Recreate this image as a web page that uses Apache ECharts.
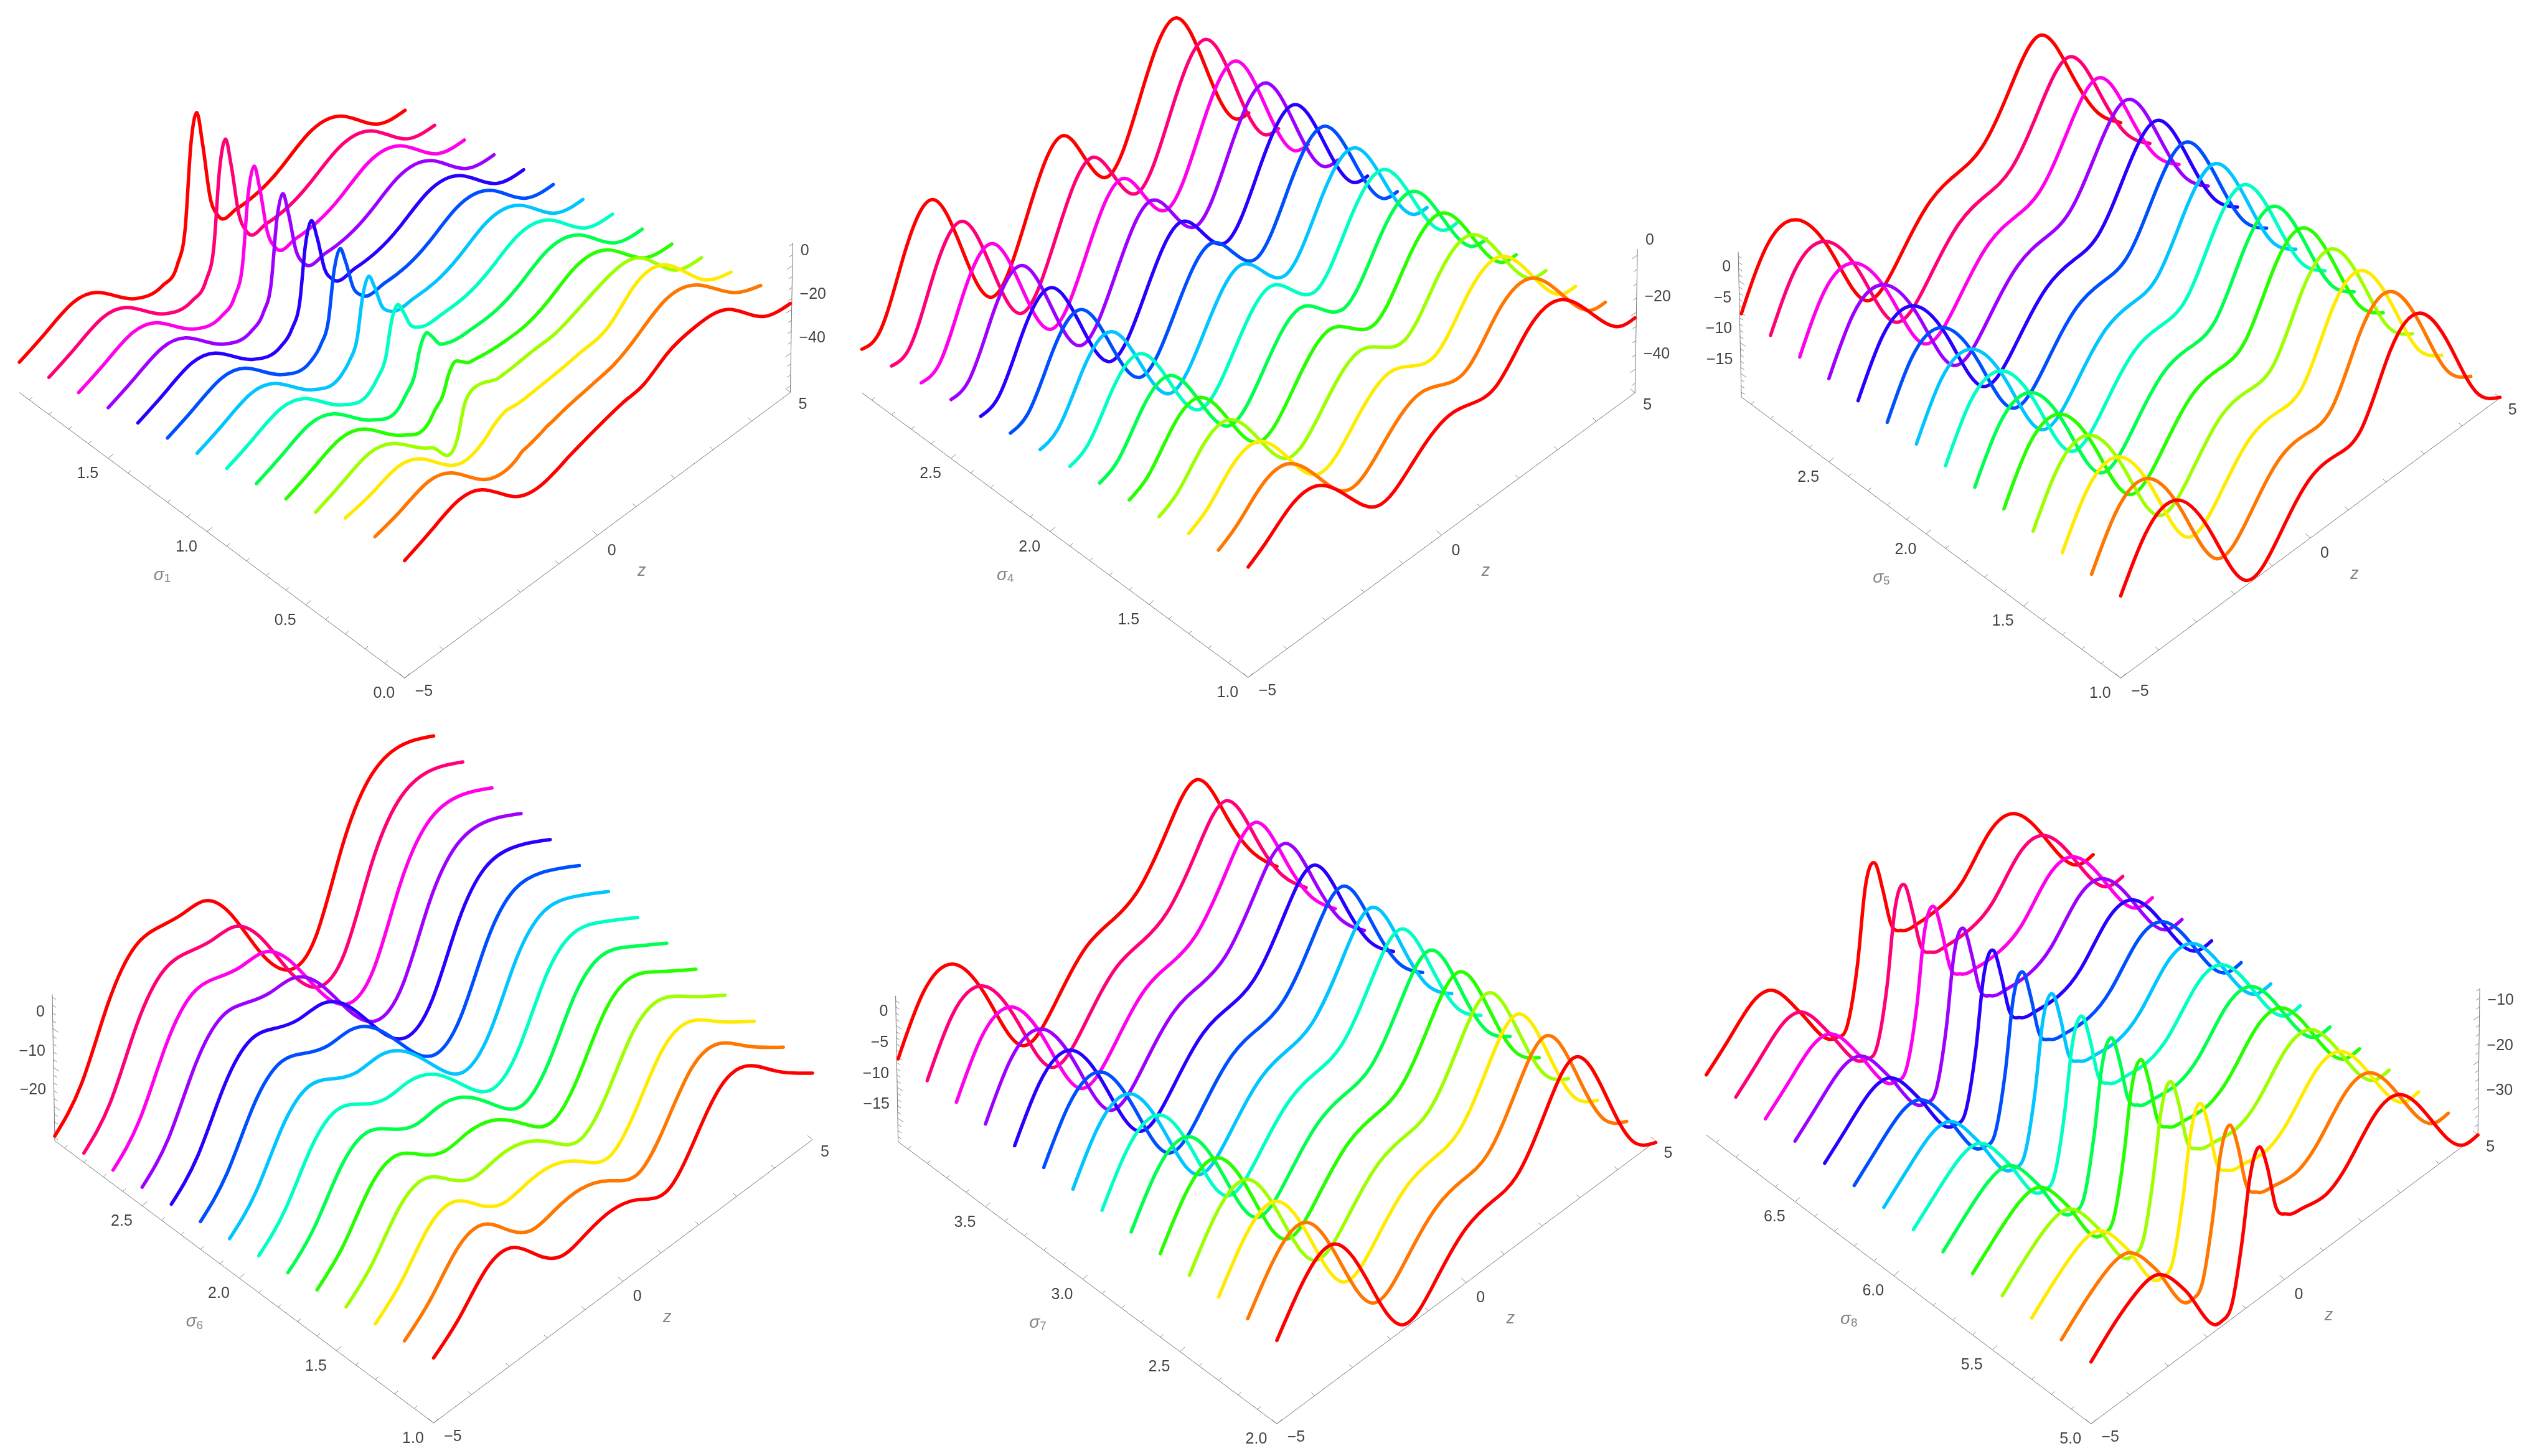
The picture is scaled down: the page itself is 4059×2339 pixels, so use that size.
<!DOCTYPE html>
<html><head><meta charset="utf-8">
<style>html,body{margin:0;padding:0;background:#fff}#c{width:4059px;height:2339px}</style>
<script src="https://cdn.jsdelivr.net/npm/echarts@6/dist/echarts.min.js"></script>
</head><body><div id="c"></div>
<script>
// ---------- curve colours, back (largest sigma) to front ----------
const curveColors=['#ff0000','#ff0076','#ff00eb','#9d00ff','#2700ff','#004fff','#00c5ff','#00ffc4','#00ff4f','#27ff00','#9dff00','#ffeb00','#ff7600','#ff0000'];

// ---------- panel 1: sigma_1, one row per curve ----------
const zKnots1=[-5,-4.3,-3.6,-3,-2,-1.3,-.9,-.7,-.55,-.4,-.25,-.05,.15,.65,1.2,1.8,2.5,3.4,4.3,5];
const zMoves1=[0,0,0,0,0,0,1,1,1,1,1,1,1,0,0,0,0,0,0,0];
const peakDrift1=[0,-.026,-.052,-.078,-.104,-.13,-.156,-.182,-.208,-.234,-.26,-.286,-.312,-.338];
const curves1=[
[-44.1,-39.4,-35,-38.3,-54.2,-57.6,-52.9,-39.1,-2.1,10,-6.2,-33.7,-44.3,-47.5,-47.2,-43.6,-37.4,-41.3,-56.6,-59.5],
[-41,-36.3,-31.9,-35.2,-51.1,-54.5,-49.8,-37.2,-3.4,8.2,-5.7,-30.7,-41.2,-44.3,-44,-40.2,-34.2,-38,-53.3,-56.3],
[-37.9,-33.2,-28.8,-32.1,-48,-51.4,-46.8,-35.2,-4.4,6.2,-6.2,-28.7,-38.1,-41,-40.7,-37.1,-30.9,-34.8,-50.1,-53],
[-34.8,-30.1,-25.7,-29,-44.9,-48.3,-43.8,-33.3,-5.7,4,-7,-26.8,-35,-37.7,-37.4,-33.8,-27.6,-31.5,-46.8,-49.7],
[-31.7,-27,-22.6,-25.9,-41.8,-45.2,-40.8,-31.3,-6.8,2,-7.6,-24.8,-31.9,-34.5,-34.2,-30.6,-24.4,-28.3,-43.6,-46.5],
[-28.6,-23.9,-19.5,-22.8,-38.7,-42.1,-37.9,-29.4,-8.2,-.4,-8.4,-22.9,-28.8,-31.2,-30.9,-27.3,-21.1,-25,-40.3,-43.2],
[-25.5,-20.8,-16.4,-19.7,-35.6,-39,-34.9,-27.5,-9.5,-2.7,-9.2,-21,-25.7,-28,-27.7,-24.1,-17.9,-21.8,-37.1,-40],
[-22.4,-17.7,-13.3,-16.6,-32.5,-35.9,-31.9,-25.7,-11.1,-5.3,-10.2,-19.2,-22.6,-24.7,-24.4,-20.8,-14.6,-18.5,-33.8,-36.7],
[-19.3,-14.6,-10.2,-13.5,-29.4,-32.8,-28.9,-23.8,-12.7,-7.9,-11.2,-17.3,-19.5,-21.5,-21.2,-17.6,-11.4,-15.3,-30.6,-33.5],
[-16.2,-11.5,-7.1,-10.4,-26.3,-29.7,-25.9,-22,-14.3,-10.6,-12.3,-15.5,-16.4,-18.2,-18,-14.4,-8.2,-12.1,-27.4,-30.3],
[-12.3,-7.7,-3.5,-7,-22,-25,-14.3,-9.4,-9.1,-9.8,-11.1,-12.7,-12.8,-12,-11.7,-8.4,-4,-5.6,-23,-26.5],
[-4.9,-2.5,.7,-4,-19,-15,-13.2,-11.1,-10.2,-10.6,-11,-11,-10.8,-9.8,-8.7,-6.7,3.5,1,-17.4,-23],
[-3.4,0,3.7,-.4,-16,-15.6,-14.5,-13.7,-13,-12.3,-11.3,-10.6,-9.7,-7.3,-5.6,-.4,6.4,2,-13.2,-19.1],
[-4.3,.5,5,2,-14,-15.6,-15.3,-14.3,-13.3,-12.3,-11.5,-10.5,-9.5,-6,-4.7,1.4,4.2,.9,-14.1,-17.3]
];

// ---------- panels 2-6: one row per z knot, one entry per curve ----------
const zKnots2=[-5,-4.55,-3.9,-3.17,-2.39,-1.64,-.74,.2,.78,1.37,2.22,3.13,3.94,4.67,5];
const slices2=[
[-33,-31.2,-29.4,-27.6,-25.8,-24,-22.1,-20.3,-18.5,-16.7,-14.9,-13.1,-11.3,-9.5],
[-31.7,-29.7,-27.7,-25.7,-23.7,-21.7,-19.6,-17.6,-15.6,-13.6,-11.6,-9.6,-7.6,-5.6],
[-10.4,-9.5,-8.7,-7.8,-6.9,-6,-5.2,-4.3,-3.4,-2.6,-1.7,-.8,.1,.9],
[1.3,1.3,1.2,1.2,1.1,1.1,1,1,1,1,.9,.9,.8,.8],
[-24.7,-23.7,-22.6,-21.6,-20.5,-19.5,-18.4,-17.4,-16.3,-15.3,-14.2,-13.2,-12.1,-11.1],
[-48.3,-46.3,-44.2,-42.2,-40.1,-38,-36,-33.9,-31.9,-29.9,-27.8,-25.8,-23.7,-21.6],
[-29.2,-28.1,-27.1,-26,-25,-23.9,-22.8,-21.8,-20.7,-19.7,-18.6,-17.5,-16.5,-15.4],
[-10,-9.9,-9.7,-9.6,-9.4,-9.3,-9.2,-9,-8.9,-8.7,-8.6,-8.5,-8.3,-8.2],
[-24,-22.9,-21.8,-20.8,-19.7,-18.6,-17.5,-16.4,-15.4,-14.3,-13.2,-12.1,-11,-9.9],
[-36,-34,-32.1,-30.1,-28.1,-26.2,-24.2,-22.2,-20.2,-18.3,-16.3,-14.3,-12.4,-10.4],
[-15.5,-14.2,-12.9,-11.6,-10.3,-9,-7.7,-6.4,-5.1,-3.8,-2.5,-1.2,.1,1.4],
[2.1,2.2,2.3,2.3,2.4,2.5,2.6,2.7,2.7,2.8,2.9,3,3,3.1],
[-25.2,-24.1,-22.9,-21.8,-20.7,-19.5,-18.4,-17.3,-16.2,-15,-13.9,-12.8,-11.6,-10.5],
[-48.8,-46.7,-44.6,-42.5,-40.4,-38.3,-36.2,-34.1,-32,-29.9,-27.8,-25.7,-23.6,-21.5],
[-50,-47.8,-45.7,-43.5,-41.4,-39.2,-37.1,-34.9,-32.8,-30.6,-28.5,-26.3,-24.2,-22]
];
const zKnots3=[-5,-4.36,-3.44,-2.58,-1.69,-.87,-.02,.69,1.33,2.11,2.89,3.68,4.39,5];
const slices3=[
[-5.3,-5.3,-5.3,-5.3,-5.4,-5.4,-5.4,-5.4,-5.4,-5.4,-5.5,-5.5,-5.5,-5.5],
[2.4,2.3,2.3,2.2,2.1,2.1,2,1.9,1.8,1.8,1.7,1.6,1.6,1.5],
[2.7,2.7,2.7,2.7,2.8,2.8,2.8,2.8,2.8,2.8,2.9,2.9,2.9,2.9],
[-6.8,-6.8,-6.8,-6.8,-6.7,-6.7,-6.7,-6.7,-6.7,-6.7,-6.6,-6.6,-6.6,-6.6],
[-18.2,-18.2,-18.2,-18.2,-18.1,-18.1,-18.1,-18.1,-18.1,-18.1,-18,-18,-18,-18],
[-15.4,-15.4,-15.4,-15.3,-15.3,-15.3,-15.3,-15.2,-15.2,-15.2,-15.2,-15.1,-15.1,-15.1],
[-9.7,-9.7,-9.6,-9.6,-9.6,-9.5,-9.5,-9.4,-9.4,-9.4,-9.3,-9.3,-9.2,-9.2],
[-8.4,-8.4,-8.4,-8.4,-8.4,-8.4,-8.4,-8.5,-8.5,-8.5,-8.5,-8.5,-8.5,-8.5],
[-7.2,-7.2,-7.2,-7.2,-7.3,-7.3,-7.3,-7.3,-7.3,-7.3,-7.4,-7.4,-7.4,-7.4],
[-.7,-.5,-.3,-.1,.1,.3,.5,.8,1,1.2,1.4,1.6,1.8,2],
[4,4,4.1,4.1,4.2,4.2,4.2,4.3,4.3,4.3,4.4,4.4,4.5,4.5],
[-5.6,-5.5,-5.4,-5.3,-5.2,-5.1,-5,-5,-4.9,-4.8,-4.7,-4.6,-4.5,-4.4],
[-15.3,-15.3,-15.3,-15.3,-15.3,-15.3,-15.3,-15.2,-15.2,-15.2,-15.2,-15.2,-15.2,-15.2],
[-19.7,-19.6,-19.5,-19.5,-19.4,-19.3,-19.2,-19.2,-19.1,-19,-18.9,-18.9,-18.8,-18.7]
];
const zKnots4=[-5,-4.3,-3.6,-2.89,-2.19,-1.63,-1.04,-.37,.41,1.18,1.88,2.58,3.29,3.99,5];
const slices4=[
[-27.6,-26.4,-25.2,-24,-22.8,-21.7,-20.5,-19.3,-18.1,-16.9,-15.7,-14.5,-13.3,-12.1],
[-19.4,-18.4,-17.4,-16.4,-15.4,-14.4,-13.5,-12.5,-11.5,-10.5,-9.5,-8.5,-7.5,-6.5],
[-3.9,-3.5,-3.2,-2.8,-2.5,-2.1,-1.8,-1.4,-1.1,-.7,-.4,0,.3,.7],
[5.6,5.2,4.9,4.5,4.2,3.8,3.4,3.1,2.7,2.3,2,1.6,1.3,.9],
[5.9,5,4,3.1,2.1,1.2,.2,-.8,-1.7,-2.7,-3.6,-4.6,-5.5,-6.4],
[4.9,3.7,2.5,1.4,.2,-1,-2.2,-3.4,-4.6,-5.8,-7,-8.1,-9.3,-10.5],
[4,2.9,1.9,.8,-.2,-1.3,-2.3,-3.4,-4.4,-5.5,-6.5,-7.6,-8.6,-9.7],
[-4.1,-4.4,-4.8,-5.1,-5.4,-5.8,-6.1,-6.4,-6.7,-7.1,-7.4,-7.7,-8.1,-8.4],
[-19.6,-18.9,-18.2,-17.6,-16.9,-16.2,-15.5,-14.9,-14.2,-13.5,-12.8,-12.1,-11.5,-10.8],
[-29.9,-28.7,-27.5,-26.2,-25,-23.8,-22.6,-21.4,-20.1,-18.9,-17.7,-16.5,-15.2,-14],
[-26.7,-25.1,-23.6,-22,-20.5,-18.9,-17.3,-15.8,-14.2,-12.6,-11.1,-9.5,-8,-6.4],
[-8.6,-7.7,-6.9,-6,-5.2,-4.3,-3.5,-2.6,-1.8,-.9,-.1,.8,1.6,2.5],
[3.7,3.6,3.5,3.4,3.4,3.3,3.2,3.1,3.1,3,2.9,2.8,2.7,2.6],
[6.4,5.6,4.8,4.1,3.3,2.5,1.7,.9,.2,-.6,-1.4,-2.2,-2.9,-3.7],
[2.4,1.3,.2,-.8,-1.9,-3,-4.1,-5.2,-6.2,-7.3,-8.4,-9.5,-10.6,-11.7]
];
const zKnots5=[-5,-4.35,-3.43,-2.58,-1.69,-.87,-.01,.69,1.32,2.12,2.89,3.68,4.38,5];
const slices5=[
[-5.4,-5.4,-5.4,-5.4,-5.4,-5.4,-5.4,-5.3,-5.3,-5.3,-5.3,-5.3,-5.3,-5.3],
[2.2,2.1,2,1.9,1.7,1.6,1.5,1.4,1.3,1.2,1,.9,.8,.7],
[2.6,2.6,2.7,2.7,2.8,2.8,2.8,2.9,2.9,3,3,3,3.1,3.1],
[-7.3,-7.3,-7.3,-7.2,-7.2,-7.2,-7.2,-7.1,-7.1,-7.1,-7.1,-7,-7,-7],
[-18.4,-18.4,-18.3,-18.3,-18.2,-18.2,-18.2,-18.1,-18.1,-18.1,-18,-18,-17.9,-17.9],
[-15.5,-15.5,-15.5,-15.4,-15.4,-15.4,-15.4,-15.3,-15.3,-15.3,-15.3,-15.2,-15.2,-15.2],
[-9.9,-9.9,-9.9,-9.9,-9.9,-9.9,-10,-10,-10,-10,-10,-10,-10,-10],
[-8.8,-8.8,-8.8,-8.8,-8.8,-8.8,-8.8,-8.8,-8.8,-8.8,-8.8,-8.8,-8.8,-8.8],
[-7.2,-7.2,-7.3,-7.3,-7.4,-7.4,-7.4,-7.5,-7.5,-7.5,-7.6,-7.6,-7.7,-7.7],
[-.7,-.7,-.7,-.6,-.6,-.6,-.6,-.5,-.5,-.5,-.5,-.4,-.4,-.4],
[3.7,3.8,3.8,3.9,3.9,4,4.1,4.1,4.2,4.2,4.3,4.4,4.4,4.5],
[-6,-5.9,-5.9,-5.8,-5.8,-5.7,-5.7,-5.6,-5.6,-5.5,-5.5,-5.4,-5.4,-5.3],
[-15,-15.1,-15.1,-15.2,-15.3,-15.3,-15.4,-15.5,-15.6,-15.6,-15.7,-15.8,-15.8,-15.9],
[-20,-19.9,-19.8,-19.8,-19.7,-19.6,-19.5,-19.5,-19.4,-19.3,-19.2,-19.2,-19.1,-19]
];
const zKnots6=[-5,-4.37,-3.81,-3.28,-2.56,-1.65,-1.35,-1.09,-.89,-.63,-.44,-.23,.06,.51,1.07,1.62,2.32,2.99,3.79,4.62,5];
const slices6=[
[-23,-23,-22.9,-22.9,-22.9,-22.9,-22.8,-22.8,-22.8,-22.7,-22.7,-22.7,-22.6,-22.6],
[-18.5,-18.4,-18.4,-18.3,-18.3,-18.2,-18.2,-18.2,-18.1,-18.1,-18,-18,-17.9,-17.8],
[-14.6,-14.6,-14.6,-14.6,-14.6,-14.6,-14.6,-14.7,-14.7,-14.7,-14.7,-14.7,-14.7,-14.7],
[-15.3,-15.2,-15.1,-15.1,-15,-14.9,-14.8,-14.7,-14.7,-14.6,-14.5,-14.4,-14.4,-14.3],
[-24.9,-24.7,-24.5,-24.3,-24.1,-24,-23.8,-23.6,-23.4,-23.2,-23,-22.8,-22.6,-22.4],
[-36.2,-36.1,-36.1,-36,-35.9,-35.8,-35.7,-35.7,-35.6,-35.5,-35.4,-35.3,-35.3,-35.2],
[-35.3,-35.1,-34.9,-34.8,-34.6,-34.4,-34.2,-34,-33.9,-33.7,-33.5,-33.3,-33.1,-32.9],
[-23.5,-23.3,-23.1,-22.8,-22.6,-22.4,-22.2,-21.9,-21.7,-21.5,-21.3,-21,-20.8,-20.6],
[-7.8,-7.8,-7.8,-7.8,-7.8,-7.8,-7.8,-7.9,-7.9,-7.9,-7.9,-7.9,-7.9,-7.9],
[-4.2,-4.1,-4,-3.9,-3.8,-3.7,-3.6,-3.6,-3.5,-3.4,-3.3,-3.2,-3.1,-3],
[-11.1,-10.9,-10.7,-10.6,-10.4,-10.2,-10,-9.8,-9.6,-9.4,-9.2,-9.1,-8.9,-8.7],
[-20,-19.9,-19.8,-19.7,-19.6,-19.5,-19.4,-19.2,-19.1,-19,-18.9,-18.8,-18.7,-18.6],
[-23.4,-23.3,-23.2,-23.1,-23,-22.9,-22.8,-22.8,-22.7,-22.6,-22.5,-22.4,-22.3,-22.2],
[-24.5,-24.4,-24.4,-24.3,-24.2,-24.2,-24.1,-24,-23.9,-23.9,-23.8,-23.7,-23.7,-23.6],
[-24.5,-24.5,-24.5,-24.5,-24.5,-24.5,-24.5,-24.4,-24.4,-24.4,-24.4,-24.4,-24.4,-24.4],
[-22.6,-22.5,-22.4,-22.3,-22.2,-22.1,-22,-22,-21.9,-21.8,-21.7,-21.6,-21.5,-21.4],
[-16.1,-16,-15.9,-15.8,-15.7,-15.6,-15.5,-15.5,-15.4,-15.3,-15.2,-15.1,-15,-14.9],
[-16.3,-16.2,-16,-15.9,-15.7,-15.6,-15.5,-15.3,-15.2,-15,-14.9,-14.8,-14.6,-14.5],
[-27.1,-27,-26.8,-26.7,-26.5,-26.4,-26.2,-26.1,-26,-25.8,-25.7,-25.5,-25.4,-25.2],
[-38,-37.9,-37.7,-37.6,-37.4,-37.3,-37.1,-37,-36.8,-36.7,-36.5,-36.4,-36.2,-36.1],
[-38.2,-38.1,-37.9,-37.8,-37.6,-37.5,-37.3,-37.2,-37,-36.9,-36.7,-36.6,-36.4,-36.3]
];

// ---------- axis ticks and labels ----------
const sigmaMajor=[[0,.5,1,1.5],[1,1.5,2,2.5],[1,1.5,2,2.5],[1,1.5,2,2.5],[2,2.5,3,3.5],[5,5.5,6,6.5]];
const sigmaLow=[0,1,1,1,2,5];
const sigmaStep=.15;
const heightLabels=[[0,-20,-40],[0,-20,-40],[0,-5,-10,-15],[0,-10,-20],[0,-5,-10,-15],[-10,-20,-30]];
const heightMinorStep=[5,5,1,2,1,2];
const zLabels=[-5,0,5];
const sigmaTitleAt=[1,2,2,2,3,6];

// ---------- page geometry of each 3D box (orthographic projection) ----------
const boxes=[
 {C:[31.1,630.6],A:[649.9,1089.2],B:[1269.4,630.6],h:3.513,vmin:-58,vtop:10.5,lean:4,right:true,lab:-24,sharp:[5,13]},
 {C:[1384.4,631],A:[2004.9,1088.3],B:[2626.2,631],h:4.575,vmin:-48.3,vtop:2.2,lean:4,right:true,lab:-24},
 {C:[2797.1,637.9],A:[3406.4,1089.3],B:[4015.6,639.3],h:9.929,vmin:-18.8,vtop:4.7,lean:-5,right:false,lab:-22},
 {C:[88,1832.5],A:[696.5,2285.9],B:[1305,1830.9],h:6.256,vmin:-28.8,vtop:8.8,lean:-4,right:false,lab:-26},
 {C:[1442.6,1834.1],A:[2051,2287.4],B:[2659.5,1833.4],h:9.93,vmin:-18.8,vtop:4.8,lean:-4,right:false,lab:-22},
 {C:[2740.7,1823.3],A:[3358.7,2287.4],B:[3980.1,1823.3],h:7.264,vmin:-36.3,vtop:-3.9,lean:3,right:true,lab:-25,sharp:[5,13]}
];
const PW=1353,PH=1170;
const transpose=m=>m[0].map((_,c)=>m.map(r=>r[c]));
const panels=[
 {z:zKnots1,curves:curves1},
 {z:zKnots2,curves:transpose(slices2)},
 {z:zKnots3,curves:transpose(slices3)},
 {z:zKnots4,curves:transpose(slices4)},
 {z:zKnots5,curves:transpose(slices5)},
 {z:zKnots6,curves:transpose(slices6)}
];

// tangents of the C2 cubic that passes through every read point
function splineSlopes(P){
  const n=P.length,a=[],b=[],c=[],r=[];
  for(let j=0;j<n;j++){
    if(j===0){const h=P[1][0]-P[0][0];a.push(0);b.push(2/h);c.push(1/h);r.push(3*(P[1][1]-P[0][1])/(h*h));continue;}
    if(j===n-1){const h=P[j][0]-P[j-1][0];a.push(1/h);b.push(2/h);c.push(0);r.push(3*(P[j][1]-P[j-1][1])/(h*h));continue;}
    const h0=P[j][0]-P[j-1][0],h1=P[j+1][0]-P[j][0];
    a.push(1/h0);b.push(2/h0+2/h1);c.push(1/h1);
    r.push(3*((P[j][1]-P[j-1][1])/(h0*h0)+(P[j+1][1]-P[j][1])/(h1*h1)));
  }
  for(let j=1;j<n;j++){const f=a[j]/b[j-1];b[j]-=f*c[j-1];r[j]-=f*r[j-1];}
  const m=new Array(n);m[n-1]=r[n-1]/b[n-1];
  for(let j=n-2;j>=0;j--)m[j]=(r[j]-c[j]*m[j+1])/b[j];
  return m;
}
// local three-point tangents: used around a sharp peak, where a C2 cubic would ripple
function localSlope(P,j){
  const h0=P[j][0]-P[j-1][0],h1=P[j+1][0]-P[j][0];
  const s0=(P[j][1]-P[j-1][1])/h0,s1=(P[j+1][1]-P[j][1])/h1;
  return (s0*h1+s1*h0)/(h0+h1);
}
function slopes(P,sharp){
  if(!sharp) return splineSlopes(P);
  const left=splineSlopes(P.slice(0,sharp[0]+1)),right=splineSlopes(P.slice(sharp[1]));
  return P.map((_,j)=>j<sharp[0]?left[j]:j>sharp[1]?right[j-sharp[1]]:localSlope(P,j));
}
// a curve is one custom series whose data are the read points; it is stroked
// as a single smooth path through those points, located with the axes' scale
function curveRenderer(data,color,sharp){
  return function(params,api){
    if(params.dataIndex!==0) return null;
    const P=data.map(d=>api.coord(d));
    const m=slopes(P,sharp);
    let d='M'+P[0][0]+' '+P[0][1];
    for(let j=0;j<P.length-1;j++){
      const w=(P[j+1][0]-P[j][0])/3;
      d+=' C'+(P[j][0]+w)+' '+(P[j][1]+m[j]*w)+' '+(P[j+1][0]-w)+' '+(P[j+1][1]-m[j+1]*w)+' '+P[j+1][0]+' '+P[j+1][1];
    }
    return {type:'path',shape:{pathData:d},style:{fill:'none',stroke:color,lineWidth:5.5,lineCap:'round',lineJoin:'round'}};
  };
}

const grid=[],xAxis=[],yAxis=[],series=[];
const FONT='"Liberation Sans",Arial,sans-serif';
panels.forEach((p,i)=>{
  const b=boxes[i],ox=(i%3)*PW,oy=(i<3?0:PH);
  grid.push({left:ox,top:oy,width:PW,height:i<3?PH:2339-PH});
  xAxis.push({gridIndex:i,type:'value',min:0,max:PW,show:false});
  yAxis.push({gridIndex:i,type:'value',min:0,max:i<3?PH:2339-PH,inverse:true,show:false});
  // z in [-5,5], k = curve position 0..13 from the back, v = height
  const project=(z,k,v)=>{
    const t=(z+5)/10;
    const x=b.C[0]+t*(b.B[0]-b.A[0])+k*(b.A[0]-b.C[0])/13;
    const y=b.C[1]+t*(b.B[1]-b.A[1])+k*(b.A[1]-b.C[1])/13;
    return [x-ox,y-b.h*(v-b.vmin)-oy];
  };
  const sigMax=sigmaLow[i]+13*sigmaStep;
  const kOf=s=>(sigMax-s)/sigmaStep;
  const axisLine=(data,w,col)=>({type:'line',xAxisIndex:i,yAxisIndex:i,data,symbol:'none',silent:true,clip:false,animation:false,
     lineStyle:{color:col||'#777',width:w||1},connectNulls:false,z:1});
  // box edges
  series.push(axisLine([project(-5,0,b.vmin),project(-5,13,b.vmin),project(5,13,b.vmin)]));
  const sideZ=b.right?5:-5, sideK=b.right?13:0;
  const vPos=v=>{const q=project(sideZ,sideK,v);q[0]+=b.lean*(v-b.vmin)/(b.vtop-b.vmin);return q;};
  series.push(axisLine([vPos(b.vmin),vPos(b.vtop)]));
  // ticks
  const segs=[];
  const seg=(q,dx,dy)=>{segs.push(q,[q[0]+dx,q[1]+dy],[NaN,NaN]);};
  for(let n=0;n<=19;n++){
    const s=sigmaLow[i]+n/10;
    const major=n%5===0;
    seg(project(-5,kOf(s),b.vmin),major?8:5,major?-7:-4.5);
  }
  for(let z=-5;z<=5;z++){
    const major=z%5===0;
    seg(project(z,13,b.vmin),major?-8:-5.5,major?-7:-5);
  }
  const stp=heightMinorStep[i];
  const start=Math.ceil(b.vmin/stp)*stp;
  for(let v=start;v<=b.vtop+1e-6;v+=stp){
    const major=heightLabels[i].includes(v)||(v%(stp*(stp===1?5:stp===2?5:4))===0);
    const dx=(major?9:5.5)*(b.right?-1:1);
    seg(vPos(v),dx,major?6:3.5);
  }
  series.push(axisLine(segs,1,'#888'));
  // curves, back to front
  p.curves.forEach((vals,k)=>{
    const data=vals.map((v,j)=>{
      const z=p.z[j]+(i===0?zMoves1[j]*peakDrift1[k]:0);
      return project(z,k,v);
    });
    series.push({type:'custom',name:'curve '+(i+1)+'-'+k,xAxisIndex:i,yAxisIndex:i,coordinateSystem:'cartesian2d',
      data,encode:{x:0,y:1},renderItem:curveRenderer(data,curveColors[k],b.sharp),clip:false,silent:true,animation:false,z:2+k*.01});
  });
  // labels
  const lab=(pt,text,ox2,oy2,align,extra)=>({value:pt,label:Object.assign({show:true,position:'inside',formatter:text,offset:[ox2,oy2],align:align||'center',verticalAlign:'middle',fontFamily:FONT,fontSize:25,color:'#111'},extra||{})});
  const labels=[];
  sigmaMajor[i].forEach(s=>labels.push(lab(project(-5,kOf(s),b.vmin),s.toFixed(1),-33,25)));
  zLabels.forEach(z=>labels.push(lab(project(z,13,b.vmin),String(z).replace('-','\u2212'),z===-5?31:z===0?23:20,z===-5?22:z===0?25:20)));
  heightLabels[i].forEach(v=>labels.push(lab(vPos(v),String(v).replace('-','\u2212'),b.right?13:-13,b.lab,b.right?'left':'right')));
  labels.push(lab(project(-5,kOf(sigmaTitleAt[i]),b.vmin),'{a|\u03c3}{b|'+['1','4','5','6','7','8'][i]+'}',-72,70,'center',{
    rich:{a:{fontFamily:FONT,fontStyle:'italic',fontSize:28,color:'#666'},b:{fontFamily:FONT,fontSize:19,color:'#666',padding:[12,0,0,0]}}}));
  labels.push(lab(project(0,13,b.vmin),'z',71,58,'center',{color:'#666',fontSize:27,fontStyle:'italic'}));
  series.push({type:'scatter',xAxisIndex:i,yAxisIndex:i,data:labels,symbolSize:1,itemStyle:{color:'rgba(0,0,0,0)'},silent:true,clip:false,animation:false,z:3});
});

const chart=echarts.init(document.getElementById('c'),null,{renderer:'canvas',width:4059,height:2339});
chart.setOption({backgroundColor:'#fff',animation:false,tooltip:{show:false},legend:{show:false},grid,xAxis,yAxis,series});
</script></body></html>
